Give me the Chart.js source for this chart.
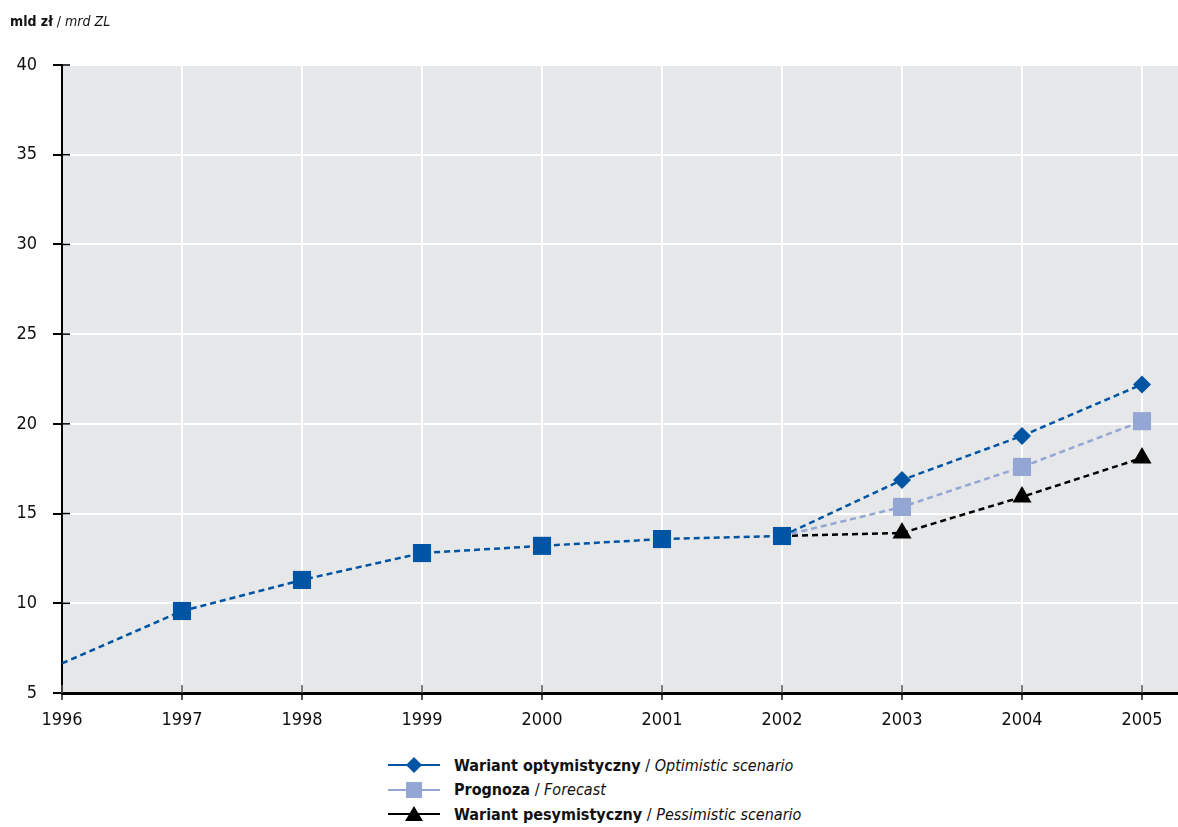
<!DOCTYPE html>
<html>
<head>
<meta charset="utf-8">
<script src="https://cdn.jsdelivr.net/npm/chart.js@4/dist/chart.umd.min.js"></script>
<style>
  body { margin: 0; background: #fff; font-family: "Liberation Sans Narrow", "DejaVu Sans Condensed", sans-serif; font-stretch: condensed; }
  #wrap { position: relative; width: 1178px; height: 827px; }
  #chart { position: absolute; left: 0; top: 0; }
  #unit { position: absolute; left: 10px; top: 13px; font-size: 14px; color: #111; }
  #legend { position: absolute; left: 386px; top: 753px; font-size: 16px; color: #111; }
  .row { display: flex; align-items: center; height: 24.5px; }
  .row svg { margin-right: 12px; }
  b { font-weight: bold; }
</style>
</head>
<body>
<div id="wrap">
  <canvas id="chart" width="1178" height="745"></canvas>
  <div id="unit"><b>mld zł</b> / <i>mrd ZL</i></div>
  <div id="legend">
    <div class="row"><svg width="56" height="20"><line x1="2" y1="10" x2="54" y2="10" stroke="#0054a4" stroke-width="2"/><polygon points="28,2 36,10 28,18 20,10" fill="#0054a4"/></svg><span><b>Wariant optymistyczny</b> / <i>Optimistic scenario</i></span></div>
    <div class="row"><svg width="56" height="20"><line x1="2" y1="10" x2="54" y2="10" stroke="#94a6d3" stroke-width="2"/><rect x="20" y="2" width="16" height="16" fill="#94a6d3"/></svg><span><b>Prognoza</b> / <i>Forecast</i></span></div>
    <div class="row"><svg width="56" height="20"><line x1="2" y1="10" x2="54" y2="10" stroke="#000" stroke-width="2"/><polygon points="28,2 37,17 19,17" fill="#000"/></svg><span><b>Wariant pesymistyczny</b> / <i>Pessimistic scenario</i></span></div>
  </div>
</div>
<script>
const years = [1996, 1997, 1998, 1999, 2000, 2001, 2002, 2003, 2004, 2005];
const history = [6.65, 9.57, 11.3, 12.8, 13.2, 13.58, 13.75, null, null, null];
const optimistic = [null, null, null, null, null, null, 13.75, 16.87, 19.33, 22.2];
const forecast = [null, null, null, null, null, null, 13.75, 15.37, 17.6, 20.15];
const pessimistic = [null, null, null, null, null, null, 13.75, 13.92, 15.93, 18.1];
const yTicks = [5, 10, 15, 20, 25, 30, 35, 40];

const FONT = "'Liberation Sans Narrow', 'DejaVu Sans Condensed', sans-serif";
const BLUE = '#0054a4';
const LIGHT = '#94a6d3';

function points(values) {
    return years.map((y, i) => ({ x: y, y: values[i] })).filter(p => p.y !== null);
}

// gray plot background + small ticks crossing into the plot
const plotDecor = {
    id: 'plotDecor',
    beforeDraw(chart) {
        const { ctx, chartArea: a } = chart;
        ctx.save();
        ctx.fillStyle = '#e6e7e9';
        ctx.fillRect(a.left, a.top, a.right - a.left, a.bottom - a.top);
        ctx.restore();
    },
    afterDraw(chart) {
        const { ctx, chartArea: a, scales } = chart;
        ctx.save();
        ctx.strokeStyle = '#000';
        ctx.lineWidth = 1.5;
        yTicks.forEach(v => {
            const py = scales.y.getPixelForValue(v);
            ctx.beginPath(); ctx.moveTo(a.left, py); ctx.lineTo(a.left + 8, py); ctx.stroke();
        });
        ctx.strokeStyle = '#555';
        years.forEach(v => {
            const px = scales.x.getPixelForValue(v);
            ctx.beginPath(); ctx.moveTo(px, a.bottom); ctx.lineTo(px, a.bottom - 8); ctx.stroke();
        });
        ctx.restore();
    }
};

const lineBase = { borderWidth: 2.5, borderDash: [6, 4], fill: false, tension: 0 };

new Chart(document.getElementById('chart'), {
    type: 'line',
    data: {
        datasets: [
            { ...lineBase, label: 'history', data: points(history), borderColor: BLUE, backgroundColor: BLUE,
              pointStyle: 'rect', pointRadius: ctx => ctx.dataIndex === 0 ? 0 : 12.8, pointBorderWidth: 0 },
            { ...lineBase, label: 'Wariant optymistyczny', data: points(optimistic), borderColor: BLUE, backgroundColor: BLUE,
              pointStyle: 'rectRot', pointRadius: ctx => ctx.dataIndex === 0 ? 0 : 9, pointBorderWidth: 0 },
            { ...lineBase, label: 'Prognoza', data: points(forecast), borderColor: LIGHT, backgroundColor: LIGHT,
              pointStyle: 'rect', pointRadius: ctx => ctx.dataIndex === 0 ? 0 : 12.8, pointBorderWidth: 0 },
            { ...lineBase, label: 'Wariant pesymistyczny', data: points(pessimistic), borderColor: '#000', backgroundColor: '#000',
              pointStyle: 'triangle', pointRadius: ctx => ctx.dataIndex === 0 ? 0 : 11, pointBorderWidth: 0 }
        ]
    },
    options: {
        responsive: false,
        animation: false,
        layout: { autoPadding: false, padding: { top: 65, left: 0, right: 0, bottom: 0 } },
        plugins: { legend: { display: false }, tooltip: { enabled: false } },
        scales: {
            x: {
                type: 'linear', min: 1996, max: 2005.3,
                afterBuildTicks: s => { s.ticks = years.map(v => ({ value: v })); },
                afterFit: s => { s.height = 52; s.paddingLeft = 0; s.paddingRight = 0; },
                grid: { color: '#fff', lineWidth: 2, tickLength: 7, tickColor: '#555' },
                border: { color: '#000', width: 3 },
                ticks: { color: '#111', padding: 10, font: { family: FONT, size: 18 }, callback: v => String(v), maxRotation: 0 }
            },
            y: {
                min: 5, max: 40,
                afterBuildTicks: s => { s.ticks = yTicks.map(v => ({ value: v })); },
                afterFit: s => { s.width = 62; s.paddingTop = 0; s.paddingBottom = 0; },
                grid: { color: '#fff', lineWidth: 2, tickLength: 9, tickColor: '#000' },
                border: { color: '#000', width: 2 },
                ticks: { color: '#111', padding: 16, font: { family: FONT, size: 18 } }
            }
        }
    },
    plugins: [plotDecor]
});
</script>
</body>
</html>
